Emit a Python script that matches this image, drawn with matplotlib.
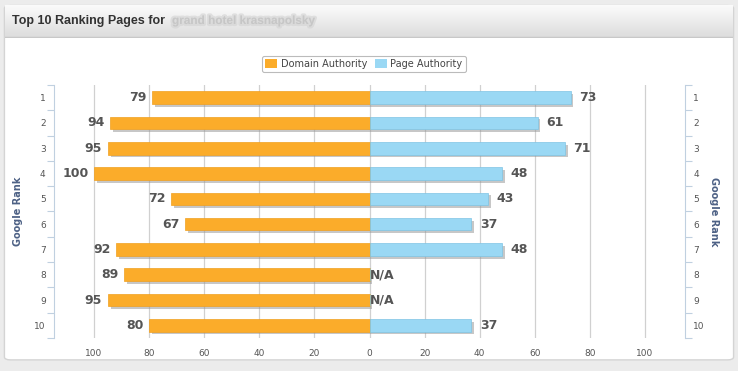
import numpy as np
import matplotlib
matplotlib.use("Agg")
import matplotlib.pyplot as plt
import matplotlib.patheffects as pe
from matplotlib.patches import FancyBboxPatch, Patch

# data
ranks = [1, 2, 3, 4, 5, 6, 7, 8, 9, 10]
domain_authority = [79, 94, 95, 100, 72, 67, 92, 89, 95, 80]
page_authority = [73, 61, 71, 48, 43, 37, 48, None, None, 37]
x_ticks = [-100, -80, -60, -40, -20, 0, 20, 40, 60, 80, 100]

orange = "#fbac2a"
blue = "#9ad8f4"
label_col = "#555555"
axis_title_col = "#4d6185"

fig = plt.figure(figsize=(7.38, 3.71), dpi=100)
fig.patch.set_facecolor("#ececec")

# card background
card = FancyBboxPatch((0.006, 0.03), 0.988, 0.955, boxstyle="round,pad=0,rounding_size=0.008",
                      transform=fig.transFigure, facecolor="white", edgecolor="#d4d4d4", lw=1, zorder=-5)
fig.patches.append(card)

# header gradient
hax = fig.add_axes([0.007, 1 - 38 / 371, 0.986, 33 / 371])
hax.patch.set_alpha(0)
grad = np.linspace(1, 0, 64).reshape(-1, 1)
hax.imshow(grad, aspect="auto", cmap=matplotlib.colors.LinearSegmentedColormap.from_list(
    "hdr", ["#dcdcdc", "#fbfbfb"]), extent=[0, 1, 0, 1])
hax.set_xlim(0, 1)
hax.set_ylim(0, 1)
hax.axis("off")
hax.axhline(0.02, color="#c8c8c8", lw=1)

fig.text(12 / 738, 1 - 21 / 371, "Top 10 Ranking Pages for", fontsize=9, fontweight="bold",
         family="Liberation Sans", color="#333333", va="center", ha="left")
fig.text(172 / 738, 1 - 21 / 371, "grand hotel krasnapolsky", fontsize=8.5, fontweight="bold",
         family="Liberation Sans", color="#c4c4c4", va="center", ha="left", alpha=0.8,
         path_effects=[pe.withStroke(linewidth=3, foreground="#d2d2d2", alpha=0.6)])

# main axes
ax = fig.add_axes([54 / 738, 1 - 338 / 371, 631 / 738, 253 / 371])
ax.patch.set_alpha(0)
y = np.array(ranks)
shadow = [pe.SimplePatchShadow(offset=(2, -2), shadow_rgbFace="#999999", alpha=0.55), pe.Normal()]

left_vals = [-v for v in domain_authority]
bl = ax.barh(y, left_vals, height=0.5, color=orange, edgecolor="#f0a020", lw=0.5, zorder=3)
right_vals = [v if v is not None else 0 for v in page_authority]
br = ax.barh(y, right_vals, height=0.5, color=blue, edgecolor="#7fc4e4", lw=0.5, zorder=3)
for b in list(bl) + list(br):
    b.set_path_effects(shadow)

for r, v in zip(ranks, domain_authority):
    ax.text(-v - 2, r, str(v), ha="right", va="center", fontsize=9, fontweight="bold", color=label_col, zorder=4)
for r, v in zip(ranks, page_authority):
    if v is None:
        ax.text(0.3, r, "N/A", ha="left", va="center", fontsize=9, fontweight="bold", color=label_col, zorder=4)
    else:
        ax.text(v + 3, r, str(v), ha="left", va="center", fontsize=9, fontweight="bold", color=label_col, zorder=4)

ax.set_xlim(-114.5, 114.5)
ax.set_ylim(10.5, 0.5)
ax.set_xticks(x_ticks)
ax.set_xticklabels([str(abs(t)) for t in x_ticks])
ax.grid(axis="x", color="#d0d0d0", lw=0.9, zorder=0)
ax.set_yticks(ranks)
ax.set_yticks(np.arange(0.5, 11, 1), minor=True)
ax.tick_params(axis="y", which="major", length=0, labelsize=6.5, labelcolor="#555555", pad=6)
ax.tick_params(axis="y", which="minor", length=5, color="#c0d0e0", width=0.8)
ax.tick_params(axis="x", length=0, labelsize=6.5, labelcolor="#555555", pad=8)
for s in ["top", "bottom", "right"]:
    ax.spines[s].set_visible(False)
ax.spines["left"].set_color("#c0d0e0")
ax.set_ylabel("Google Rank", fontsize=7, fontweight="bold", color=axis_title_col, labelpad=8)

ax2 = ax.twinx()
ax2.set_ylim(10.5, 0.5)
ax2.set_yticks(ranks)
ax2.set_yticks(np.arange(0.5, 11, 1), minor=True)
ax2.tick_params(axis="y", which="major", length=0, labelsize=6.5, labelcolor="#555555", pad=6)
ax2.tick_params(axis="y", which="minor", length=5, color="#c0d0e0", width=0.8)
for s in ["top", "bottom", "left"]:
    ax2.spines[s].set_visible(False)
ax2.spines["right"].set_color("#c0d0e0")
ax2.set_ylabel("Google Rank", fontsize=7, fontweight="bold", color=axis_title_col,
               rotation=270, labelpad=10)

handles = [Patch(facecolor=orange, edgecolor="none", label="Domain Authority"),
           Patch(facecolor=blue, edgecolor="none", label="Page Authority")]
leg = fig.legend(handles=handles, loc="center", bbox_to_anchor=(0.493, 1 - 64 / 371), ncol=2,
                 fontsize=7, frameon=True, handlelength=1.2, handleheight=1.0, handletextpad=0.4,
                 columnspacing=0.8, borderpad=0.35, fancybox=True)
leg.get_frame().set_edgecolor("#aaaaaa")
leg.get_frame().set_linewidth(0.8)
for t in leg.get_texts():
    t.set_color("#444444")

fig.savefig("out.png", dpi=100, facecolor=fig.get_facecolor())
